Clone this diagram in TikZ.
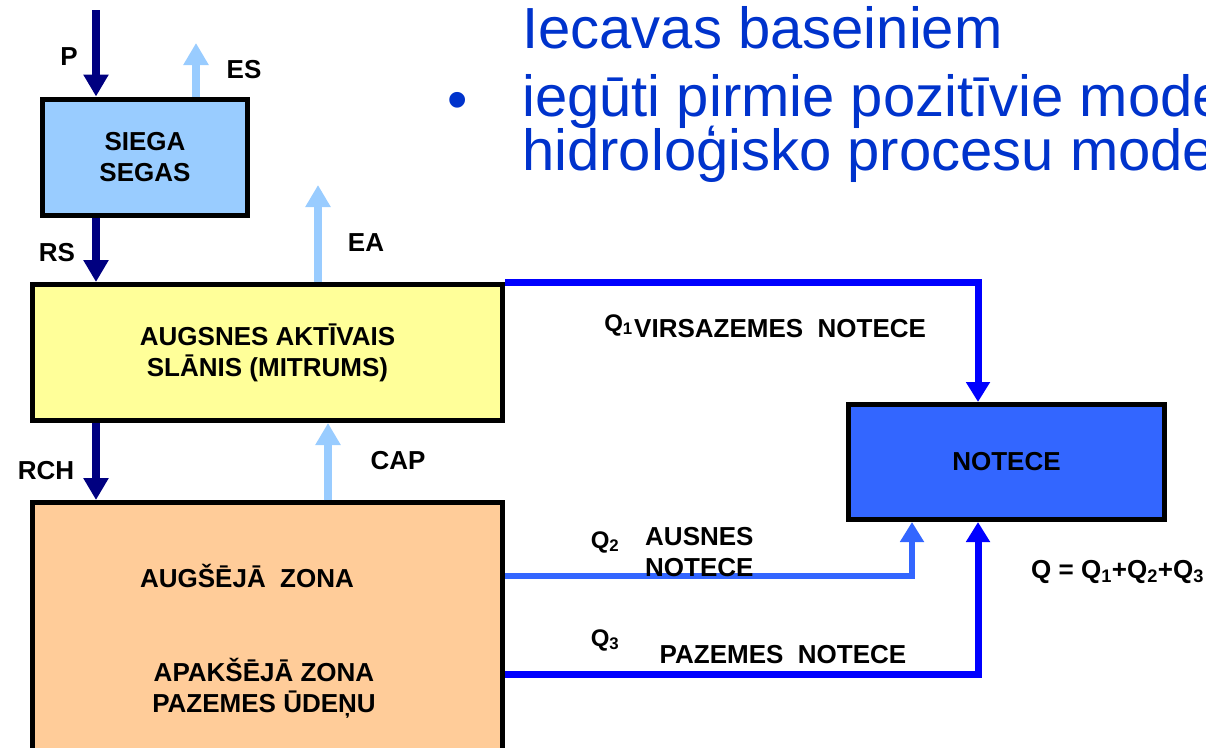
\documentclass[tikz,border=0pt]{standalone}
\usepackage{fontspec}
\setmainfont{Liberation Sans}
\usetikzlibrary{arrows.meta,positioning}
\definecolor{navyflow}{HTML}{000080}
\definecolor{lightflow}{HTML}{99CCFF}
\definecolor{siegafill}{HTML}{99CCFF}
\definecolor{soilfill}{HTML}{FFFF99}
\definecolor{zonefill}{HTML}{FFCC99}
\definecolor{notecefill}{HTML}{3366FF}
\definecolor{qblue}{HTML}{0000FF}
\definecolor{qlight}{HTML}{3366FF}
\definecolor{slideblue}{HTML}{0033CC}

\tikzset{
  boxnode/.style={draw=black, line width=5pt, inner sep=0pt},
  lbl/.style={font=\bfseries\fontsize{26}{31}\selectfont, align=center, inner sep=0pt},
  qlbl/.style={font=\bfseries\fontsize{24}{28}\selectfont, inner sep=0pt},
  bigtxt/.style={font=\fontsize{58}{58}\selectfont, text=slideblue, inner sep=0pt},
  downflow/.style={navyflow, line width=8pt, -{Triangle[width=24pt,length=22pt]}},
  upflow/.style={lightflow, line width=8pt, -{Triangle[width=24pt,length=22pt]}},
  runoff/.style={line width=7pt, -{Triangle[width=23pt,length=20pt]}},
}

\begin{document}
\begin{tikzpicture}[x=1pt, y=-1pt]
\useasboundingbox (0,0) rectangle (1206,747);
\clip (0,0) rectangle (1206,747);

\node[boxnode, fill=siegafill, minimum width=205pt, minimum height=116pt, lbl] (siega) at (145,157) {SIEGA\\SEGAS};
\node[boxnode, fill=soilfill, minimum width=470pt, minimum height=136pt, lbl] (soil) at (267.5,352.5) {AUGSNES AKTĪVAIS\\SLĀNIS (MITRUMS)};
\node[boxnode, fill=zonefill, minimum width=470pt, minimum height=280pt] (zone) at (267.5,642.5) {};
\node[boxnode, fill=notecefill, minimum width=316pt, minimum height=115pt, lbl] (notece) at (1006.5,462) {NOTECE};
\node[lbl] (upper) at (247,576) {AUGŠĒJĀ\ \ ZONA};
\node[lbl] (lower) at (264,688) {APAKŠĒJĀ ZONA\\PAZEMES ŪDEŅU};
%============
\coordinate (pin) at (96,10);
\coordinate (esout) at (196,43);
\coordinate (eaout) at (318,185);
\coordinate (capx) at (328,0);
\coordinate (q1x) at (978,0);
\coordinate (q2x) at (912,0);
\coordinate (q2y) at (0,576);
\coordinate (q3y) at (0,674);

\draw[downflow] (pin) -- (pin |- siega.north);
\draw[upflow] (siega.north -| esout) -- (esout);
\draw[downflow] (siega.south -| pin) -- (pin |- soil.north);
\draw[upflow] (soil.north -| eaout) -- (eaout);
\draw[downflow] (soil.south -| pin) -- (pin |- zone.north);
\draw[upflow] (zone.north -| capx) -- (capx |- soil.south);

\draw[runoff, qblue] (soil.north east) -| (notece.north -| q1x);
\draw[runoff, qlight, line width=6pt] (zone.east |- q2y) -| (notece.south -| q2x);
\draw[runoff, qblue] (zone.east |- q3y) -| (notece.south -| q1x);
%============
\node[lbl] (plbl) at (69,57) {P};
\node[lbl] (eslbl) at (244,70) {ES};
\node[lbl] (rslbl) at (57,253) {RS};
\node[lbl] (ealbl) at (366,243) {EA};
\node[lbl] (rchlbl) at (46,471) {RCH};
\node[lbl] (caplbl) at (398,461) {CAP};

\node[qlbl, anchor=east] (q1lbl) at (633,325) {Q\textsubscript{1}};
\node[lbl, anchor=west] (q1txt) at (634,329) {VIRSAZEMES\ \ NOTECE};
\node[qlbl] (q2lbl) at (605,542) {Q\textsubscript{2}};
\node[lbl, align=left, anchor=west] (q2txt) at (645,552) {AUSNES\\NOTECE};
\node[qlbl] (q3lbl) at (605,640) {Q\textsubscript{3}};
\node[lbl] (q3txt) at (783,655) {PAZEMES\ \ NOTECE};
\node[lbl, anchor=west] (qsum) at (1031,572) {Q = Q\textsubscript{1}+Q\textsubscript{2}+Q\textsubscript{3}};
%============
\node[bigtxt, anchor=base west] (line1) at (522,48) {Iecavas baseiniem};
\node[bigtxt, anchor=base] (bullet) at (458,119) {•};
\node[bigtxt, anchor=base west] (line2) at (522,116) {iegūti pirmie pozitīvie mode};
\node[bigtxt, anchor=base west] (line3) at (522,170) {hidroloģisko procesu mode};
\end{tikzpicture}
\end{document}
